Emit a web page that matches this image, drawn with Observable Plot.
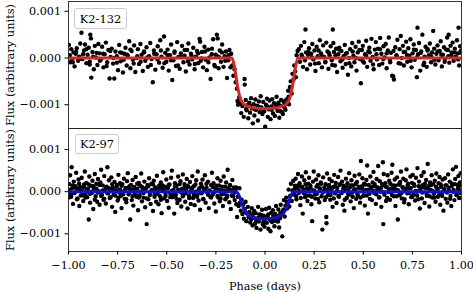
<!DOCTYPE html>
<html><head><meta charset="utf-8">
<script src="https://cdn.jsdelivr.net/npm/d3@7"></script>
<script src="https://cdn.jsdelivr.net/npm/@observablehq/plot@0.6"></script>
<style>
body{margin:0;background:#fff;}
#wrap{position:relative;width:473px;height:292px;font-family:"DejaVu Serif";}
#wrap svg{position:absolute;left:0;overflow:visible;}
.leg{position:absolute;box-sizing:border-box;border:1px solid #ccc;border-radius:3px;background:rgba(255,255,255,0.8);font:11.4px "DejaVu Serif";color:#000;display:flex;align-items:center;justify-content:center;}
</style></head><body>
<div id="wrap"></div>
<script>
// Phase-folded light curves (phase in days, flux in units of 1e-4)
const k2132Obs = [[-0.998,2.8],[-0.995,0.6],[-0.991,-0.9],[-0.986,1.9],[-0.982,-0.4],[-0.975,1.2],[-0.969,-1.8],[-0.963,0.9],[-0.958,2.1],[-0.951,-0.6],[-0.946,0.3],[-0.940,3.1],[-0.934,5.4],[-0.929,-0.2],[-0.921,1.6],[-0.916,2.9],[-0.909,-1.1],[-0.903,0.7],[-0.897,2.2],[-0.892,-0.8],[-0.889,5.0],[-0.886,4.2],[-0.884,-4.2],[-0.878,1.3],[-0.871,-2.4],[-0.866,2.6],[-0.860,0.1],[-0.853,-1.5],[-0.848,3.0],[-0.842,1.0],[-0.835,-0.3],[-0.829,2.4],[-0.822,-2.0],[-0.816,0.8],[-0.810,3.3],[-0.803,-0.9],[-0.797,1.7],[-0.791,-4.4],[-0.786,0.2],[-0.780,2.0],[-0.773,-1.2],[-0.767,-4.4],[-0.761,1.4],[-0.754,0.4],[-0.748,-2.6],[-0.742,2.8],[-0.735,-0.7],[-0.729,1.1],[-0.723,-3.1],[-0.716,0.9],[-0.710,2.2],[-0.704,-1.6],[-0.698,0.5],[-0.691,3.6],[-0.685,-2.2],[-0.679,1.5],[-0.672,-0.4],[-0.666,2.7],[-0.660,-3.0],[-0.653,0.0],[-0.647,1.9],[-0.641,-1.3],[-0.634,3.0],[-0.628,0.7],[-0.622,-2.8],[-0.615,1.2],[-0.609,-0.6],[-0.603,2.3],[-0.596,-1.9],[-0.590,0.4],[-0.584,3.2],[-0.577,-0.2],[-0.571,-5.2],[-0.565,1.6],[-0.558,-2.5],[-0.552,0.8],[-0.546,2.5],[-0.539,-1.0],[-0.533,3.8],[-0.527,0.3],[-0.521,-2.1],[-0.514,4.6],[-0.508,1.1],[-0.502,-0.8],
[-0.496,1.8],[-0.490,-2.7],[-0.484,0.6],[-0.478,2.9],[-0.472,-4.7],[-0.466,-0.5],[-0.460,1.4],[-0.453,-1.7],[-0.447,3.4],[-0.441,0.2],[-0.434,-2.3],[-0.428,1.0],[-0.422,2.6],[-0.415,-0.9],[-0.409,0.5],[-0.403,-2.9],[-0.396,1.7],[-0.390,3.1],[-0.384,-1.4],[-0.377,0.9],[-0.371,-0.3],[-0.365,2.2],[-0.358,-2.4],[-0.352,0.3],[-0.346,1.5],[-0.340,-1.1],[-0.333,4.1],[-0.330,3.5],[-0.327,-0.6],[-0.321,1.3],[-0.315,-2.0],[-0.308,2.4],[-0.302,-0.4],[-0.296,-2.6],[-0.289,1.8],[-0.283,0.1],[-0.277,-4.5],[-0.270,2.0],[-0.264,4.0],[-0.258,-1.5],[-0.251,0.7],[-0.245,5.0],[-0.241,4.2],[-0.236,-2.2],[-0.230,1.6],[-0.224,-0.8],[-0.218,2.9],[-0.211,-1.9],[-0.205,0.4],[-0.199,1.4],[-0.193,-4.3],[-0.187,-0.5],[-0.181,1.7],[-0.176,-2.0],
[-0.172,0.9],[-0.167,-1.6],[-0.161,-3.8],[-0.155,-2.4],[-0.149,-5.2],[-0.143,-6.6],[-0.140,-9.2],[-0.137,-10.0],[-0.131,-8.4],[-0.126,-9.5],[-0.121,-11.8],[-0.115,-10.3],[-0.104,-4.5],[-0.103,-5.7],[-0.108,-12.6],
[-0.098,-9.0],[-0.093,-11.2],[-0.089,-10.1],[-0.085,-12.9],[-0.080,-9.6],[-0.076,-11.7],[-0.071,-8.6],[-0.067,-10.8],[-0.062,-14.0],[-0.058,-9.9],[-0.054,-12.3],[-0.049,-8.9],[-0.045,-11.1],[-0.040,-10.2],[-0.036,-13.4],[-0.031,-9.3],[-0.027,-11.6],[-0.022,-8.2],[-0.018,-10.6],[-0.013,-12.0],[-0.009,-9.4],[-0.004,-11.4],[0.001,-14.7],[0.005,-10.0],[0.010,-8.7],[0.014,-12.6],[0.019,-11.0],[0.023,-9.1],[0.028,-13.1],[0.032,-10.4],[0.037,-8.8],[0.041,-11.9],[0.046,-9.7],[0.050,-12.4],[0.055,-10.1],[0.059,-8.3],[0.064,-11.3],[0.068,-9.6],[0.073,-12.8],[0.077,-10.2],[0.082,-9.0],[0.086,-11.6],[0.091,-12.0],[0.095,-9.3],[0.099,-10.6],
[0.104,-11.1],[0.109,-8.9],[0.113,-9.8],[0.118,-7.0],[0.122,-9.9],[0.127,-6.2],[0.131,-5.0],[0.136,-7.6],[0.140,-3.4],[0.145,-4.6],[0.149,-1.6],[0.153,-2.9],[0.157,-4.1],[0.161,0.6],[0.166,1.5],
[0.172,1.9],[0.178,-0.8],[0.183,2.6],[0.189,0.3],[0.194,-1.9],[0.200,3.4],[0.206,6.1],[0.209,1.2],[0.214,-2.4],[0.219,0.7],[0.224,2.1],[0.230,-1.4],[0.235,0.9],[0.241,3.0],[0.246,-0.3],[0.252,1.6],[0.257,-2.8],[0.263,2.4],[0.268,0.4],[0.274,-1.1],[0.279,3.8],[0.285,1.0],[0.290,-2.0],[0.296,2.7],[0.301,0.2],[0.307,-0.9],[0.312,3.3],[0.318,1.4],[0.323,-2.3],[0.329,0.6],[0.334,2.5],[0.340,-0.5],[0.345,6.1],[0.348,3.2],[0.351,1.3],[0.356,-1.6],[0.362,2.0],[0.367,-3.0],[0.373,0.8],[0.378,2.2],[0.384,-0.7],[0.389,1.5],[0.395,-2.1],[0.400,0.4],[0.406,2.8],[0.411,-1.3],[0.417,1.1],[0.422,-3.6],[0.428,0.0],[0.433,1.9],[0.439,-1.8],[0.444,3.2],[0.450,0.5],[0.455,-0.9],[0.461,2.4],[0.466,-2.7],[0.472,1.2],[0.477,3.5],[0.483,-0.2],[0.488,-5.4],[0.493,1.7],[0.498,2.6],[0.504,-1.0],[0.509,0.8],[0.515,3.7],[0.520,-1.9],[0.526,1.4],[0.531,2.2],[0.537,-0.6],[0.542,4.1],[0.548,0.2],[0.553,-2.4],[0.559,1.8],[0.564,3.4],[0.570,-0.3],[0.575,2.0],[0.581,-1.5],[0.586,4.3],[0.592,0.9],[0.597,-1.2],[0.603,2.5],[0.608,0.1],[0.614,3.0],[0.619,-2.2],[0.625,1.6],[0.630,4.4],[0.636,-0.4],[0.641,1.1],[0.647,-3.8],[0.652,-3.9],[0.656,-4.6],[0.663,2.3],[0.669,0.6],[0.674,3.9],[0.680,-1.1],[0.685,1.9],[0.691,4.7],[0.696,0.0],[0.702,2.6],[0.707,-1.6],[0.713,1.3],[0.718,3.5],[0.724,-0.8],[0.729,2.1],[0.735,0.5],[0.740,4.0],[0.746,-2.0],[0.751,1.0],[0.757,2.9],[0.762,-0.4],[0.768,1.7],[0.773,-4.1],[0.776,6.5],[0.779,0.8],[0.784,3.2],[0.790,-2.7],[0.795,1.4],[0.801,5.0],[0.806,-1.5],[0.812,0.3],[0.817,2.4],[0.823,-1.9],[0.828,1.9],[0.834,0.6],[0.839,3.1],[0.845,-0.9],[0.850,1.2],[0.856,5.8],[0.861,2.0],[0.867,-1.4],[0.872,0.9],[0.878,2.7],[0.883,-0.5],[0.889,1.5],[0.894,3.6],[0.900,-1.8],[0.905,0.7],[0.911,2.3],[0.916,-0.2],[0.922,1.8],[0.927,4.4],[0.933,0.4],[0.935,5.0],[0.938,-1.0],[0.944,2.6],[0.949,1.2],[0.955,3.3],[0.960,-0.6],[0.966,2.0],[0.971,0.3],[0.977,3.8],[0.982,1.0],[0.985,6.5],[0.988,-1.6],[0.993,2.5],[0.998,1.1]];
const k2132ObsCore = [[-0.993,0.5],[-0.978,-0.9],[-0.961,1.3],[-0.944,-0.2],[-0.926,0.8],[-0.909,1.9],[-0.892,-1.4],[-0.875,0.3],[-0.857,1.1],[-0.840,-0.6],[-0.823,0.9],[-0.806,-1.7],[-0.788,1.5],[-0.771,0.0],[-0.754,-1.0],[-0.737,1.2],[-0.719,-0.4],[-0.702,0.7],[-0.685,1.8],[-0.668,-1.2],[-0.650,0.4],[-0.633,-0.8],[-0.616,1.4],[-0.599,0.1],[-0.581,-1.5],[-0.564,0.9],[-0.547,-0.3],[-0.530,1.6],[-0.512,-1.1],[-0.495,0.6],[-0.478,-0.5],[-0.461,1.1],[-0.443,-1.6],[-0.426,0.2],[-0.409,1.7],[-0.392,-0.7],[-0.374,0.5],[-0.357,-1.3],[-0.340,1.0],[-0.323,-0.1],[-0.305,1.4],[-0.288,-0.9],[-0.271,0.8],[-0.254,-1.8],[-0.236,0.3],[-0.219,1.2],[-0.202,-0.6],[-0.185,0.6],
[-0.118,-9.9],[-0.096,-10.9],[-0.074,-10.3],[-0.052,-11.0],[-0.030,-10.5],[-0.008,-11.2],[0.012,-10.4],[0.034,-11.1],[0.056,-10.6],[0.078,-11.4],[0.098,-10.0],[0.120,-8.3],
[0.186,0.7],[0.203,-0.5],[0.221,1.3],[0.238,0.1],[0.255,-1.2],[0.273,1.6],[0.290,0.4],[0.307,-0.8],[0.325,1.1],[0.342,-1.5],[0.359,0.6],[0.377,1.8],[0.394,-0.3],[0.411,0.9],[0.429,-1.1],[0.446,1.4],[0.463,0.0],[0.481,1.7],[0.498,-0.7],[0.515,0.5],[0.533,1.2],[0.550,-1.4],[0.567,0.8],[0.585,1.9],[0.602,-0.2],[0.619,1.0],[0.637,-0.9],[0.654,1.5],[0.671,0.3],[0.689,-1.2],[0.706,1.3],[0.723,0.6],[0.741,-0.6],[0.758,1.8],[0.775,0.2],[0.793,1.1],[0.810,-1.0],[0.827,1.6],[0.845,0.4],[0.862,-0.4],[0.879,1.4],[0.897,0.7],[0.914,-0.8],[0.931,1.7],[0.949,0.5],[0.966,1.2],[0.983,-0.3],[0.996,1.5]];

const k2132ModelPhase = [-1.0,-0.168,-0.160,-0.150,-0.140,-0.130,-0.120,-0.110,-0.095,-0.075,-0.050,-0.025,0.0,0.025,0.050,0.075,0.095,0.110,0.120,0.130,0.140,0.150,0.160,0.168,1.0];
const k2132ModelFlux  = [0,0,-1.0,-3.2,-6.0,-8.0,-9.2,-9.8,-10.2,-10.5,-10.7,-10.8,-10.8,-10.8,-10.7,-10.5,-10.2,-9.8,-9.2,-8.0,-6.0,-3.2,-1.0,0,0];

const k297Obs = [[-0.999,-1.4],[-0.996,1.8],[-0.992,3.9],[-0.988,-0.6],[-0.984,5.8],[-0.981,0.9],[-0.977,-2.9],[-0.973,2.4],[-0.969,-0.2],[-0.965,1.3],[-0.961,4.5],[-0.957,-1.8],[-0.953,0.5],[-0.949,2.9],[-0.945,-3.4],[-0.941,1.1],[-0.937,-0.9],[-0.933,3.3],[-0.929,0.2],[-0.925,-2.2],[-0.921,1.7],[-0.917,4.8],[-0.913,-0.5],[-0.909,2.1],[-0.905,-1.3],[-0.901,0.7],[-0.897,-6.6],[-0.894,3.6],[-0.890,-2.6],[-0.886,1.4],[-0.882,-0.3],[-0.878,2.6],[-0.874,-4.1],[-0.870,0.8],[-0.866,4.2],[-0.862,-1.1],[-0.858,1.9],[-0.854,-2.4],[-0.850,3.0],[-0.846,0.1],[-0.842,-3.1],[-0.838,2.2],[-0.834,5.2],[-0.830,-0.8],[-0.826,1.5],[-0.822,-1.9],[-0.818,3.7],[-0.814,0.4],[-0.810,-2.8],[-0.806,1.2],[-0.802,5.8],[-0.798,-0.4],[-0.794,2.7],[-0.790,-1.5],[-0.786,0.6],[-0.782,3.4],[-0.778,-3.6],[-0.774,1.0],[-0.770,-0.7],[-0.766,2.3],[-0.762,-4.8],[-0.758,0.3],[-0.754,1.6],[-0.750,-2.1],[-0.746,4.0],[-0.742,-0.2],[-0.738,2.0],[-0.734,-1.0],[-0.730,-3.9],[-0.726,1.8],[-0.722,0.0],[-0.718,3.1],[-0.714,-1.7],[-0.710,0.9],[-0.706,-2.5],[-0.702,2.5],[-0.698,4.4],[-0.694,-0.6],[-0.690,1.3],[-0.686,-6.6],[-0.682,0.5],[-0.678,-2.0],[-0.674,2.8],[-0.670,-3.3],[-0.666,1.1],[-0.662,-0.4],[-0.658,3.5],[-0.654,-1.2],[-0.650,0.7],[-0.646,-4.4],[-0.642,2.1],[-0.638,-0.9],[-0.634,1.4],[-0.630,4.3],[-0.626,-2.3],[-0.622,0.2],[-0.618,-1.4],[-0.614,2.4],[-0.610,-3.7],[-0.606,0.8],[-0.602,-7.7],[-0.598,1.6],[-0.594,-1.8],[-0.590,3.2],[-0.586,-0.1],[-0.582,-2.9],[-0.578,1.9],[-0.574,0.4],[-0.570,-4.6],[-0.566,2.6],[-0.562,-0.7],[-0.558,1.0],[-0.554,-2.4],[-0.550,3.8],[-0.546,0.3],[-0.542,-3.0],[-0.538,1.5],[-0.534,-1.1],[-0.530,2.2],[-0.526,-5.1],[-0.522,0.6],[-0.518,4.6],[-0.514,-1.6],[-0.510,1.2],[-0.506,-0.3],[-0.502,2.9],
[-0.498,-2.2],[-0.494,0.9],[-0.490,-3.8],[-0.486,1.7],[-0.482,-0.5],[-0.478,3.3],[-0.474,5.0],[-0.470,-1.3],[-0.466,0.4],[-0.462,-5.2],[-0.458,2.0],[-0.454,-0.8],[-0.450,1.4],[-0.446,-2.7],[-0.442,3.6],[-0.438,0.1],[-0.434,-1.9],[-0.430,2.5],[-0.426,-3.5],[-0.422,0.7],[-0.418,4.1],[-0.414,-0.6],[-0.410,1.8],[-0.406,-2.4],[-0.402,0.3],[-0.398,3.0],[-0.394,-4.0],[-0.390,1.1],[-0.386,-1.0],[-0.382,2.3],[-0.378,-2.9],[-0.374,0.5],[-0.370,3.7],[-0.366,-1.5],[-0.362,1.3],[-0.358,-3.2],[-0.354,0.0],[-0.350,2.7],[-0.346,-0.9],[-0.342,4.8],[-0.338,-2.1],[-0.334,0.8],[-0.330,-4.3],[-0.326,1.9],[-0.322,-0.4],[-0.318,2.9],[-0.314,-1.7],[-0.310,0.6],[-0.306,3.9],[-0.302,-2.6],[-0.298,1.0],[-0.294,-0.2],[-0.290,2.4],[-0.286,-3.9],[-0.282,0.3],[-0.278,-1.2],[-0.274,1.6],[-0.270,4.5],[-0.266,-0.7],[-0.262,2.0],[-0.258,-2.8],[-0.254,0.9],[-0.250,-4.7],[-0.246,1.4],[-0.242,3.2],[-0.238,-1.4],[-0.234,0.5],[-0.230,-2.3],[-0.226,2.6],[-0.222,-0.6],[-0.218,1.2],[-0.214,-3.4],[-0.210,3.6],[-0.206,0.2],[-0.202,-1.8],[-0.198,2.2],[-0.194,-0.9],[-0.190,5.2],[-0.186,0.7],[-0.182,-2.5],[-0.178,1.5],[-0.174,-4.1],[-0.170,0.4],[-0.166,2.8],[-0.162,-1.1],[-0.158,1.0],[-0.154,-2.0],[-0.150,0.6],[-0.146,-3.0],[-0.142,-6.0],
[-0.138,-1.2],[-0.134,-3.4],[-0.130,0.8],[-0.127,-2.6],[-0.123,-4.5],[-0.119,-1.9],[-0.115,-5.3],[-0.111,-3.0],[-0.107,-6.4],[-0.103,-4.1],[-0.099,-2.4],[-0.095,-7.0],[-0.091,-5.2],[-0.087,-3.6],[-0.083,-6.1],
[-0.079,-4.8],[-0.075,-7.3],[-0.071,-5.6],[-0.067,-3.9],[-0.063,-8.0],[-0.059,-6.2],[-0.055,-4.6],[-0.051,-7.6],[-0.047,-5.1],[-0.043,-8.6],[-0.039,-6.8],[-0.035,-3.6],[-0.031,-7.1],[-0.027,-5.4],[-0.023,-9.0],[-0.019,-6.0],[-0.015,-4.3],[-0.011,-7.8],[-0.007,-5.7],[-0.003,-8.3],[0.001,-6.5],[0.005,-4.1],[0.009,-7.4],[0.013,-5.9],[0.017,-8.8],[0.021,-3.8],[0.025,-6.6],[0.028,-9.4],[0.032,-5.0],[0.036,-7.2],[0.040,-4.4],[0.044,-6.9],[0.048,-8.2],[0.052,-5.3],[0.056,-3.4],[0.060,-7.0],[0.064,-5.8],[0.068,-4.2],[0.072,-8.5],[0.076,-6.3],[0.080,-3.1],[0.084,-5.5],[0.088,-10.6],
[0.092,-4.7],[0.096,-2.0],[0.100,-5.9],[0.104,-3.3],[0.108,-1.4],[0.112,-4.0],[0.116,-2.6],[0.120,0.5],[0.124,-3.5],[0.128,-1.0],[0.132,1.9],[0.136,-2.2],[0.140,0.3],
[0.144,2.6],[0.148,-0.7],[0.152,1.4],[0.156,3.1],[0.160,-1.8],[0.164,0.9],[0.168,4.2],[0.172,-0.3],[0.176,2.0],[0.180,-3.2],[0.184,1.2],[0.188,3.6],[0.192,-5.2],[0.196,0.4],[0.200,2.7],[0.204,-1.3],[0.208,4.6],[0.212,0.8],[0.216,-2.2],[0.220,1.9],[0.224,3.3],[0.228,-0.9],[0.232,1.0],[0.236,-3.0],[0.240,-7.0],[0.244,2.4],[0.248,4.8],[0.252,0.1],[0.256,-1.6],[0.260,2.9],[0.264,-0.5],[0.268,1.6],[0.272,3.9],[0.276,-2.5],[0.280,0.6],[0.284,2.2],[0.288,-1.1],[0.292,-9.0],[0.296,3.4],[0.300,0.2],[0.304,-2.0],[0.308,1.8],[0.312,-6.0],[0.313,-7.5],[0.316,4.3],[0.320,-0.8],[0.324,1.3],[0.328,3.0],[0.332,-1.9],[0.336,0.7],[0.340,2.5],[0.344,-3.6],[0.348,1.1],[0.352,4.0],[0.356,-0.4],[0.360,2.1],[0.364,-2.7],[0.368,0.9],[0.372,3.5],[0.376,-1.2],[0.380,1.7],[0.384,5.0],[0.388,-0.1],[0.392,2.4],[0.396,-3.1],[0.400,1.4],[0.404,-4.5],[0.408,0.3],[0.412,3.1],[0.416,-1.5],[0.420,2.0],[0.424,-0.6],[0.428,4.4],[0.432,1.0],[0.436,-2.3],[0.440,2.7],[0.444,-0.2],[0.448,1.5],[0.452,-3.9],[0.456,3.8],[0.460,0.5],[0.464,-1.7],[0.468,2.3],[0.472,-0.9],[0.476,1.2],[0.480,4.1],[0.484,-2.6],[0.488,7.3],[0.492,0.8],[0.496,3.2],[0.500,-1.0],[0.504,1.9],[0.508,-3.3],[0.512,0.4],[0.516,2.8],[0.520,6.2],[0.524,-5.2],[0.528,1.6],[0.532,-0.5],[0.536,3.6],[0.540,0.9],[0.544,-2.0],[0.548,2.2],[0.552,4.7],[0.556,-0.3],[0.560,1.3],[0.564,-2.9],[0.568,3.0],[0.572,0.6],[0.576,6.1],[0.580,-1.4],[0.584,2.5],[0.588,0.0],[0.592,-3.6],[0.596,1.8],[0.600,7.0],[0.602,-7.7],[0.604,4.2],[0.608,-0.7],[0.612,2.0],[0.616,-2.2],[0.620,1.1],[0.624,3.9],[0.628,-0.1],[0.632,2.6],[0.636,-1.9],[0.640,0.7],[0.644,4.5],[0.648,6.4],[0.652,1.5],[0.656,-1.1],[0.660,2.9],[0.664,-3.4],[0.668,0.5],[0.672,3.4],[0.676,-6.6],[0.680,1.7],[0.684,-0.8],[0.688,2.3],[0.692,4.8],[0.696,-1.6],[0.700,1.0],[0.704,3.1],[0.708,-2.5],[0.712,0.3],[0.716,2.7],[0.720,5.3],[0.724,-0.4],[0.728,1.9],[0.732,-3.0],[0.736,0.8],[0.740,3.6],[0.744,-1.3],[0.748,2.1],[0.752,4.0],[0.756,-0.6],[0.760,1.4],[0.764,-2.1],[0.768,3.3],[0.772,0.1],[0.776,5.6],[0.780,-1.8],[0.784,2.4],[0.788,-4.0],[0.792,1.2],[0.796,3.8],[0.800,-0.2],[0.804,1.6],[0.808,4.6],[0.812,-2.7],[0.816,0.9],[0.820,2.8],[0.824,-1.0],[0.828,6.6],[0.832,1.3],[0.836,-3.5],[0.840,2.2],[0.844,0.4],[0.848,3.9],[0.852,-1.4],[0.856,1.8],[0.860,-0.5],[0.864,2.6],[0.868,-2.4],[0.872,4.3],[0.876,0.7],[0.880,-1.2],[0.884,2.0],[0.888,3.5],[0.892,-3.1],[0.896,1.1],[0.900,-0.3],[0.904,2.9],[0.908,-4.5],[0.912,0.6],[0.916,3.2],[0.920,-1.7],[0.924,1.5],[0.928,-2.6],[0.932,4.1],[0.936,0.2],[0.940,2.4],[0.944,-1.0],[0.948,-3.4],[0.952,1.9],[0.956,5.3],[0.960,0.4],[0.964,-2.0],[0.968,3.0],[0.972,5.9],[0.976,-0.8],[0.980,1.6],[0.984,3.7],[0.988,-1.5],[0.992,2.2],[0.996,4.4],[0.999,0.3]];
const k297ObsCore = [[-0.994,0.4],[-0.986,-1.2],[-0.978,1.5],[-0.970,-0.3],[-0.962,0.9],[-0.954,-1.6],[-0.946,1.9],[-0.938,0.2],[-0.930,-0.8],[-0.922,1.1],[-0.914,-1.4],[-0.906,0.6],[-0.898,1.7],[-0.890,-0.5],[-0.882,0.0],[-0.874,1.3],[-0.866,-1.9],[-0.858,0.7],[-0.850,-0.2],[-0.842,1.6],[-0.834,-1.0],[-0.826,0.3],[-0.818,-1.7],[-0.810,1.0],[-0.802,-0.4],[-0.794,0.8],[-0.786,-1.3],[-0.778,1.8],[-0.770,0.1],[-0.762,-0.9],[-0.754,1.2],[-0.746,-1.5],[-0.738,0.5],[-0.730,1.4],[-0.722,-0.6],[-0.714,0.2],[-0.706,-1.8],[-0.698,0.9],[-0.690,-0.1],[-0.682,1.6],[-0.674,-1.1],[-0.666,0.4],[-0.658,-0.7],[-0.650,1.9],[-0.642,-1.4],[-0.634,0.0],[-0.626,1.1],[-0.618,-0.3],[-0.610,0.7],[-0.602,-1.6],[-0.594,1.3],[-0.586,-0.8],[-0.578,0.3],[-0.570,1.7],[-0.562,-1.2],[-0.554,0.6],[-0.546,-0.5],[-0.538,1.0],[-0.530,-1.9],[-0.522,1.5],[-0.514,0.1],[-0.506,-1.0],[-0.498,0.8],[-0.490,1.6],[-0.482,-1.3],[-0.474,0.2],[-0.466,-0.6],[-0.458,1.2],[-0.450,-1.7],[-0.442,0.5],[-0.434,1.8],[-0.426,-0.2],[-0.418,-1.1],[-0.410,0.9],[-0.402,-0.4],[-0.394,1.4],[-0.386,-1.5],[-0.378,0.0],[-0.370,1.0],[-0.362,-0.8],[-0.354,1.7],[-0.346,-1.2],[-0.338,0.4],[-0.330,-0.3],[-0.322,1.3],[-0.314,-1.8],[-0.306,0.6],[-0.298,1.9],[-0.290,-0.7],[-0.282,0.2],[-0.274,-1.4],[-0.266,1.1],[-0.258,-0.1],[-0.250,0.8],[-0.242,-1.0],[-0.234,1.5],[-0.226,-1.6],[-0.218,0.3],[-0.210,-0.5],[-0.202,1.2],[-0.194,-1.3],[-0.186,0.7],[-0.178,1.6],[-0.170,-0.9],[-0.162,0.4],[-0.154,-0.2],[-0.146,1.0],
[-0.120,-2.8],[-0.100,-4.9],[-0.082,-5.8],[-0.070,-6.6],[-0.058,-5.2],[-0.045,-7.0],[-0.033,-6.1],[-0.020,-5.5],[-0.008,-7.2],[0.004,-6.0],[0.016,-5.4],[0.030,-6.9],[0.042,-5.7],[0.054,-6.4],[0.066,-7.1],[0.078,-5.0],[0.094,-4.2],[0.110,-2.4],
[0.150,0.6],[0.158,-1.0],[0.166,1.4],[0.174,0.2],[0.182,-1.5],[0.190,1.1],[0.198,-0.4],[0.206,1.8],[0.214,-0.9],[0.222,0.5],[0.230,1.5],[0.238,-1.2],[0.246,0.3],[0.254,-0.6],[0.262,1.2],[0.270,-1.7],[0.278,0.8],[0.286,1.9],[0.294,-0.2],[0.302,1.0],[0.310,-1.3],[0.318,0.4],[0.326,1.6],[0.334,-0.8],[0.342,0.9],[0.350,-1.6],[0.358,1.3],[0.366,0.1],[0.374,-1.0],[0.382,1.7],[0.390,-0.3],[0.398,0.7],[0.406,-1.9],[0.414,1.2],[0.422,0.3],[0.430,-0.7],[0.438,1.5],[0.446,-1.2],[0.454,0.6],[0.462,1.9],[0.470,-0.5],[0.478,0.9],[0.486,-1.4],[0.494,1.3],[0.502,0.0],[0.510,1.7],[0.518,-0.9],[0.526,0.5],[0.534,-1.7],[0.542,1.1],[0.550,0.2],[0.558,1.8],[0.566,-0.6],[0.574,1.0],[0.582,-1.3],[0.590,0.8],[0.598,1.6],[0.606,-0.2],[0.614,1.2],[0.622,-1.5],[0.630,0.4],[0.638,1.9],[0.646,-0.8],[0.654,0.6],[0.662,1.4],[0.670,-1.1],[0.678,0.3],[0.686,1.7],[0.694,-0.4],[0.702,1.0],[0.710,-1.8],[0.718,0.7],[0.726,1.5],[0.734,-0.3],[0.742,0.9],[0.750,-1.2],[0.758,1.8],[0.766,0.2],[0.774,-0.9],[0.782,1.3],[0.790,0.5],[0.798,-1.6],[0.806,1.1],[0.814,1.9],[0.822,-0.5],[0.830,0.8],[0.838,-1.1],[0.846,1.6],[0.854,0.1],[0.862,-1.4],[0.870,1.2],[0.878,0.6],[0.886,-0.7],[0.894,1.7],[0.902,-1.0],[0.910,0.4],[0.918,1.5],[0.926,-0.2],[0.934,0.9],[0.942,-1.7],[0.950,1.3],[0.958,0.0],[0.966,1.8],[0.974,-0.8],[0.982,0.7],[0.990,1.4],[0.997,-0.4]];

const k297ModelPhase = [-1.0,-0.145,-0.135,-0.125,-0.115,-0.105,-0.095,-0.085,-0.070,-0.050,-0.025,0.0,0.025,0.050,0.070,0.085,0.095,0.105,0.115,0.125,0.135,0.145,1.0];
const k297ModelFlux  = [0,0,-0.6,-1.8,-3.2,-4.3,-5.0,-5.5,-5.9,-6.2,-6.4,-6.4,-6.4,-6.2,-5.9,-5.5,-5.0,-4.3,-3.2,-1.8,-0.6,0,0];

const panelNames = ["K2-132", "K2-97"];
const xTicks = [-1, -0.75, -0.5, -0.25, 0, 0.25, 0.5, 0.75, 1];
const yTicks = [-0.001, 0, 0.001];
const unit = 1e-4;

const obs = a => a.map(([p, f]) => ({phase: p, flux: f * unit}));
const model = (P, F) => P.map((p, i) => ({phase: p, flux: F[i] * unit}));

const yLabel = "Flux (arbitrary units)";
const fmtY = d3.format(".3f");
const fmtX = d3.format(".2f");

function panel({data, mdl, color, yDomain, height, marginTop, marginBottom, showX}) {
  const marks = [
    Plot.dot(data, {x: "phase", y: "flux", r: 2.2, fill: "#000", stroke: "none", clip: true}),
    Plot.line(mdl, {x: "phase", y: "flux", stroke: color, strokeWidth: 3, curve: "monotone-x", clip: true}),
    Plot.frame({stroke: "#222", strokeWidth: 0.9}),
    Plot.axisY({ticks: yTicks, tickFormat: fmtY, tickSize: 3.5, tickPadding: 4, label: null}),
    Plot.text([yLabel], {text: d => d, frameAnchor: "left", textAnchor: "middle", lineAnchor: "middle", rotate: -90, dx: -58.5, fontSize: 11.4})
  ];
  if (showX) {
    marks.push(Plot.axisX({ticks: xTicks, tickFormat: fmtX, tickSize: 3.5, tickPadding: 6,
      label: "Phase (days)", labelAnchor: "center", labelOffset: 38, labelArrow: "none"}));
  }
  return Plot.plot({
    width: 473, height, marginLeft: 68, marginRight: 12, marginTop, marginBottom,
    style: {fontFamily: "DejaVu Serif", fontSize: "11.2px", color: "#000", background: "transparent", overflow: "visible"},
    x: {domain: [-1, 1], axis: showX ? undefined : null},
    y: {domain: yDomain, axis: null},
    marks
  });
}

const topPanel = panel({data: obs(k2132Obs.concat(k2132ObsCore)), mdl: model(k2132ModelPhase, k2132ModelFlux), color: "#d62728",
  yDomain: [-0.00151, 0.00121], height: 129, marginTop: 1, marginBottom: 1, showX: false});
const botPanel = panel({data: obs(k297Obs.concat(k297ObsCore)), mdl: model(k297ModelPhase, k297ModelFlux), color: "#1010d0",
  yDomain: [-0.00142, 0.00150], height: 165, marginTop: 1, marginBottom: 41, showX: true});

const wrap = document.getElementById("wrap");
topPanel.style.top = "0px";
botPanel.style.top = "127px";
wrap.appendChild(topPanel);
wrap.appendChild(botPanel);

const legends = [{name: panelNames[0], left: 74, top: 8, w: 53, h: 21}, {name: panelNames[1], left: 75, top: 134, w: 44, h: 20}];
for (const l of legends) {
  const d = document.createElement("div");
  d.className = "leg";
  d.textContent = l.name;
  Object.assign(d.style, {left: l.left + "px", top: l.top + "px", width: l.w + "px", height: l.h + "px"});
  wrap.appendChild(d);
}
</script>
</body></html>
